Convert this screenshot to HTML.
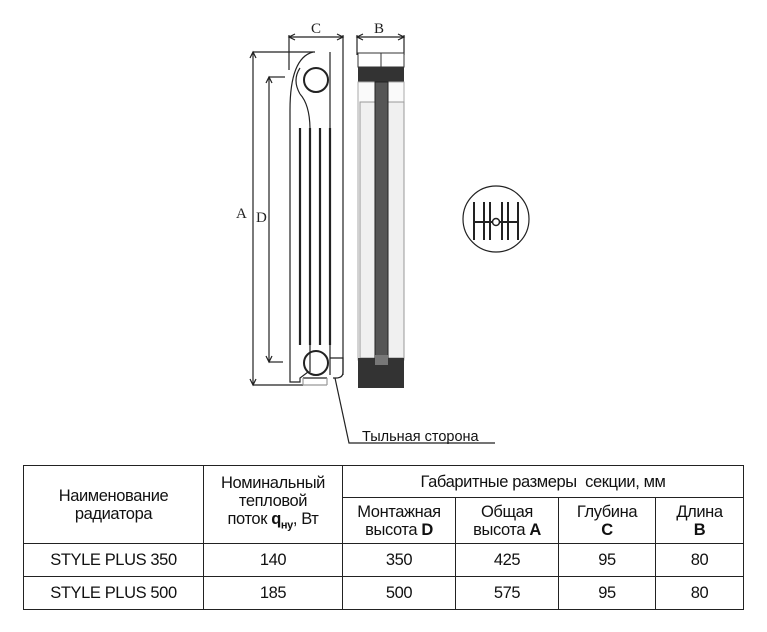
<!DOCTYPE html>
<html><head><meta charset="utf-8"><style>
body{margin:0;background:#fff;width:767px;height:632px;overflow:hidden;font-family:"Liberation Sans",Arial,sans-serif}
svg{position:absolute;left:0;top:0}
table{position:absolute;left:23px;top:465px;border-collapse:collapse;font-size:16.5px;letter-spacing:-0.4px;color:#111}
td{border:1.5px solid #222;text-align:center;padding:0;line-height:18px}
</style></head><body>
<svg width="767" height="460" viewBox="0 0 767 460">
<g stroke="#222" fill="none" stroke-width="1.2">
<line x1="289" y1="37" x2="343" y2="37"/><path d="M295 34 L289 37 L295 40 M337 34 L343 37 L337 40"/>
<line x1="289" y1="35" x2="289" y2="70"/><line x1="343" y1="35" x2="343" y2="375"/>
<text x="311" y="33" font-family="Liberation Serif" font-size="15" fill="#222" stroke="none">C</text>
<line x1="357" y1="37" x2="404" y2="37"/><path d="M363 34 L357 37 L363 40 M398 34 L404 37 L398 40"/>
<line x1="357" y1="35" x2="357" y2="55"/><line x1="404" y1="35" x2="404" y2="55"/>
<text x="374" y="33" font-family="Liberation Serif" font-size="15" fill="#222" stroke="none">B</text>
<line x1="253" y1="52" x2="315" y2="52"/><line x1="253" y1="52" x2="253" y2="385"/>
<path d="M250 58 L253 52 L256 58 M250 379 L253 385 L256 379"/>
<line x1="253" y1="385" x2="303" y2="385"/>
<text x="236" y="218" font-family="Liberation Serif" font-size="15" fill="#222" stroke="none">A</text>
<line x1="269" y1="77" x2="285" y2="77"/><line x1="269" y1="77" x2="269" y2="362"/>
<path d="M266 83 L269 77 L272 83 M266 356 L269 362 L272 356"/>
<line x1="269" y1="362" x2="283" y2="362"/>
<text x="256" y="222" font-family="Liberation Serif" font-size="15" fill="#222" stroke="none">D</text>
<path d="M313 52 Q290 58 290 110 L290 382 L300 382 L300 378 L308 372"/>
<path d="M300 94 Q310 105 310 130 L310 372"/>
<path d="M300 68 Q292 80 300 94"/>
<line x1="330" y1="52" x2="330" y2="375"/>
<path d="M330 358 L343 358 L343 372 Q343 378 336 378 L333 378"/>
<line x1="303" y1="378" x2="327" y2="378"/><line x1="303" y1="385" x2="327" y2="385" stroke="#999"/>
<line x1="303" y1="378" x2="303" y2="385" stroke="#999"/><line x1="327" y1="378" x2="327" y2="385" stroke="#999"/>
<circle cx="316" cy="80" r="12" stroke-width="2"/>
<circle cx="316" cy="363" r="12" stroke-width="2"/>
</g>
<g stroke="#222" stroke-width="2.2">
<line x1="300" y1="128" x2="300" y2="345"/><line x1="310" y1="128" x2="310" y2="345"/>
<line x1="320" y1="128" x2="320" y2="345"/><line x1="330" y1="128" x2="330" y2="345"/>
</g>
<rect x="358" y="53" width="46" height="14" fill="#fff" stroke="#333"/>
<line x1="381" y1="53" x2="381" y2="67" stroke="#333"/>
<rect x="358" y="67" width="46" height="15" fill="#333"/>
<rect x="358" y="82" width="46" height="278" fill="#fafafa" stroke="#aaa"/>
<rect x="360" y="102" width="44" height="256" fill="#f0f0f0" stroke="#999"/>
<rect x="375" y="82" width="13" height="280" fill="#555" stroke="#222"/>
<rect x="358" y="358" width="46" height="30" fill="#333"/>
<rect x="375" y="355" width="13" height="10" fill="#777"/>
<g stroke="#222" fill="none">
<circle cx="496" cy="219" r="33" stroke-width="1.2"/>
<g stroke-width="2"><line x1="474" y1="202" x2="474" y2="240"/><line x1="484" y1="202" x2="484" y2="240"/><line x1="490" y1="202" x2="490" y2="240"/><line x1="502" y1="202" x2="502" y2="240"/><line x1="508" y1="202" x2="508" y2="240"/><line x1="518" y1="202" x2="518" y2="240"/>
<line x1="473" y1="222" x2="519" y2="222"/></g>
<circle cx="496" cy="222" r="3.5" fill="#fff" stroke-width="1.5"/>
</g>
<path d="M335 378 L349 443 L495 443" stroke="#222" fill="none" stroke-width="1.2"/>
<text x="362" y="441" font-size="14.5" fill="#111">Тыльная сторона</text>
</svg>
<table>
<colgroup><col style="width:180px"><col style="width:139px"><col style="width:113px"><col style="width:103px"><col style="width:97px"><col style="width:88px"></colgroup>
<tr style="height:32px"><td rowspan="2">Наименование<br>радиатора</td><td rowspan="2">Номинальный<br>тепловой<br>поток <b>q<sub style="font-size:11px">ну</sub></b>, Вт</td><td colspan="4">Габаритные размеры&nbsp; секции, мм</td></tr>
<tr style="height:46px"><td>Монтажная<br>высота <b>D</b></td><td>Общая<br>высота <b>A</b></td><td>Глубина<br><b>C</b></td><td>Длина<br><b>B</b></td></tr>
<tr style="height:33px"><td>STYLE PLUS 350</td><td>140</td><td>350</td><td>425</td><td>95</td><td>80</td></tr>
<tr style="height:33px"><td>STYLE PLUS 500</td><td>185</td><td>500</td><td>575</td><td>95</td><td>80</td></tr>
</table>
</body></html>
